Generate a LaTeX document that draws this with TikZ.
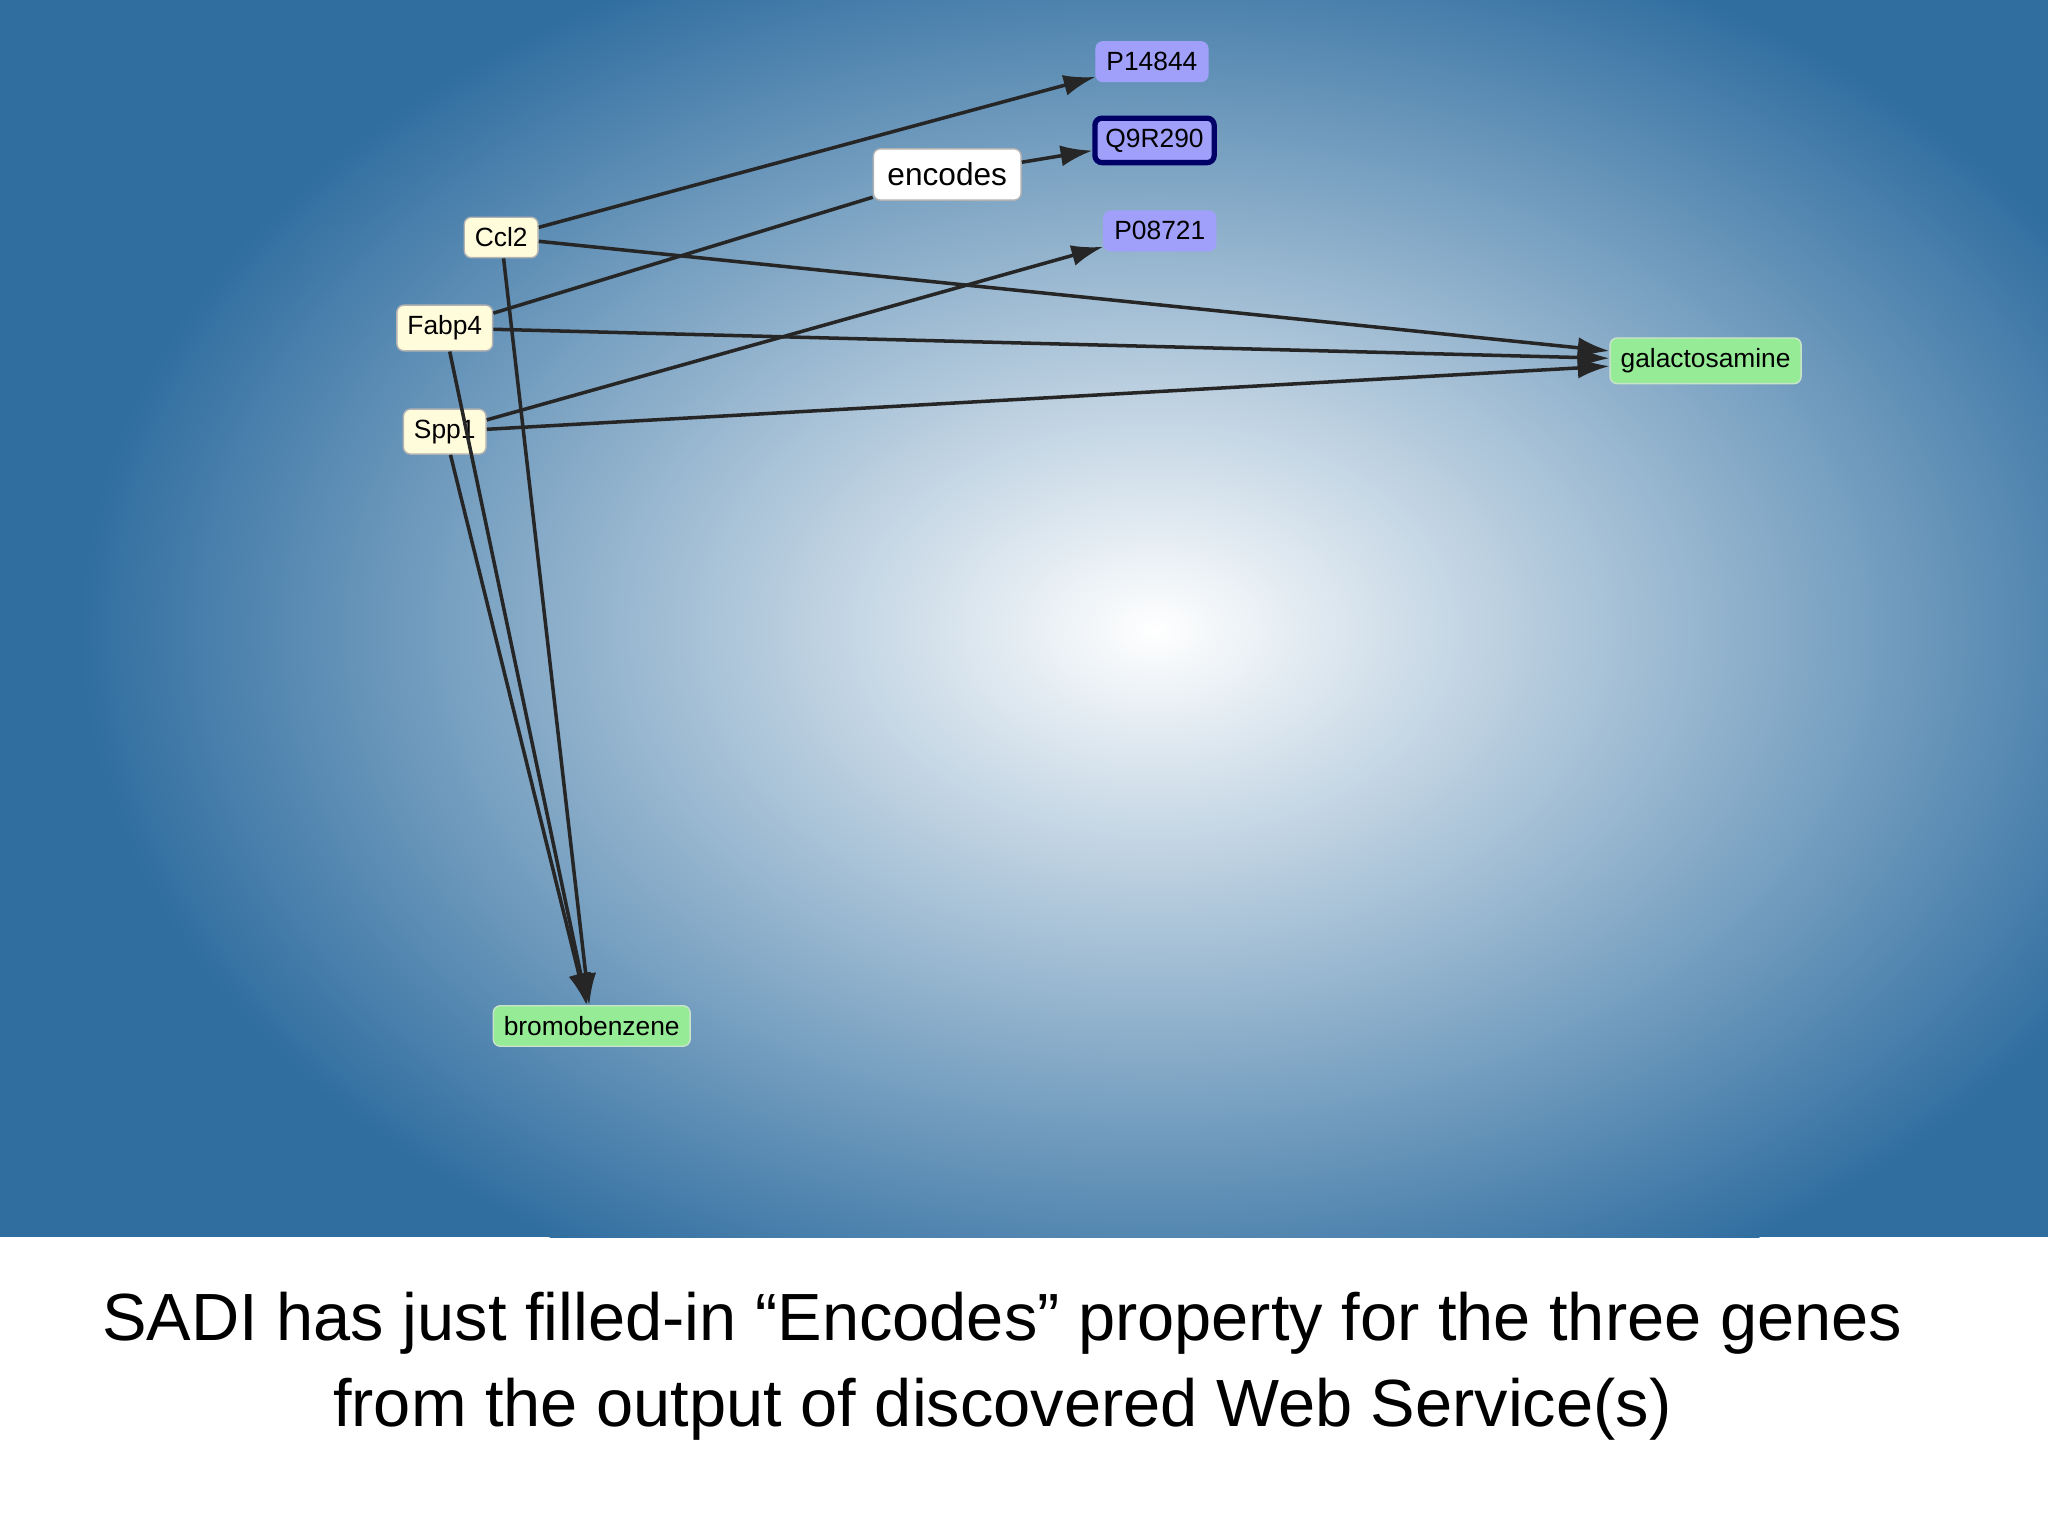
\documentclass[tikz,border=0pt]{standalone}
\usepackage{fontspec}
\setmainfont{Liberation Sans}
\usetikzlibrary{arrows.meta}
\definecolor{bgblue}{RGB}{48,110,160}
\definecolor{gene}{RGB}{255,252,220}
\definecolor{prot}{RGB}{160,160,250}
\definecolor{chem}{RGB}{150,235,150}
\tikzset{
  lbl/.style={rounded corners=2pt, inner sep=3pt, font=\fontsize{7.5}{9}\selectfont, text=black},
  genebox/.style={lbl, fill=gene, draw=gray!60},
  protbox/.style={lbl, fill=prot, draw=prot},
  chembox/.style={lbl, fill=chem, draw=chem!80!black!40},
  edge/.style={draw=black!85, line width=1pt, -{Latex[length=9pt,width=6pt]}},
}
\begin{document}
\begin{tikzpicture}[x=0.01312cm,y=-0.01312cm]
\useasboundingbox (0,0) rectangle (1561,1170);
\fill[white] (0,0) rectangle (1561,1170);
\fill[bgblue] (0,0) rectangle (1561,943);
\begin{scope}
\clip (0,0) rectangle (1561,943);
\shade[inner color=white, outer color=bgblue] (880,480) ellipse (820 and 560);
\end{scope}
\node[protbox] (p1) at (878,47) {P14844};
\node[protbox, draw=blue!40!black, line width=1.5pt] (q9) at (880,107) {Q9R290};
\node[lbl, fill=white, draw=gray!60, font=\fontsize{9}{11}\selectfont\color{black!75}, inner sep=4pt] (enc) at (722,133) {encodes};
\node[protbox] (p0) at (884,176) {P08721};
\node[genebox] (ccl) at (382,181) {Ccl2};
\node[genebox] (fab) at (339,250) {Fabp4};
\node[genebox] (spp) at (339,329) {Spp1};
\node[chembox] (gal) at (1300,275) {galactosamine};
\node[chembox] (bro) at (451,782) {bromobenzene};
\draw[edge] (ccl) -- (p1);
\draw[edge] (ccl) -- (gal);
\draw[edge] (ccl) -- (bro);
\draw[draw=black!85, line width=1pt] (fab) -- (enc);
\draw[edge] (enc) -- (q9);
\draw[edge] (fab) -- (gal);
\draw[edge] (fab) -- (bro);
\draw[edge] (spp) -- (p0);
\draw[edge] (spp) -- (gal);
\draw[edge] (spp) -- (bro);
\node[font=\fontsize{19}{24.5}\selectfont, align=center] (cap) at (764,1041) {SADI has just filled-in “Encodes” property for the three genes\\from the output of discovered Web Service(s)};
\end{tikzpicture}
\end{document}
